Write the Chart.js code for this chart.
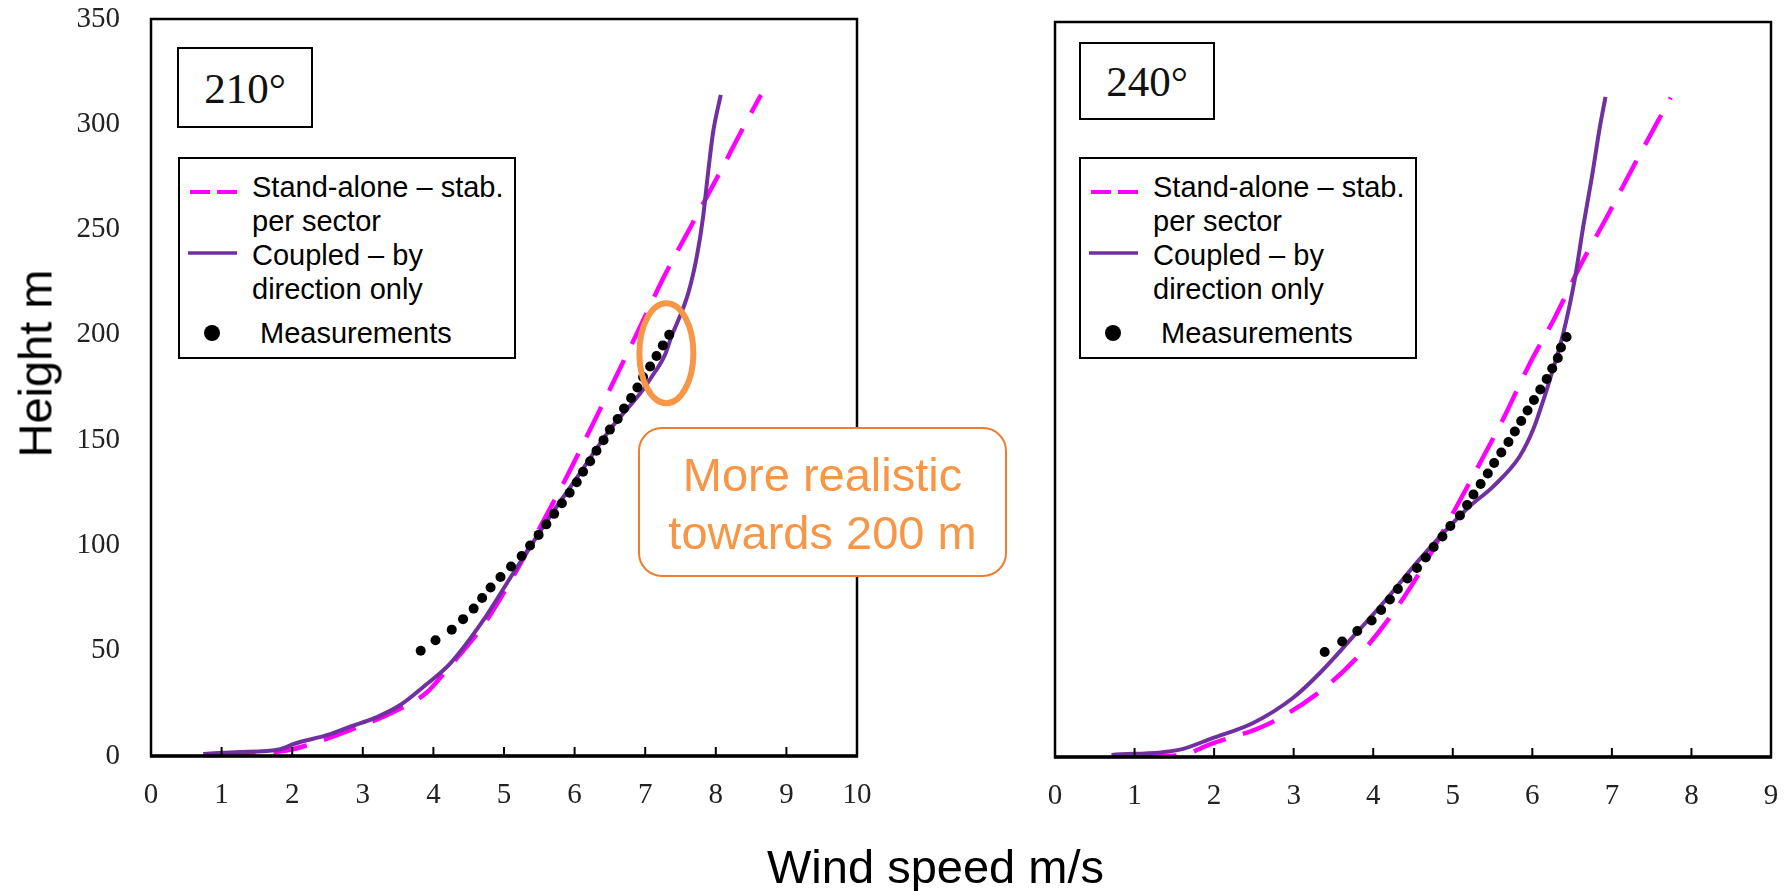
<!DOCTYPE html>
<html>
<head>
<meta charset="utf-8">
<script src="https://cdn.jsdelivr.net/npm/chart.js@4.4.1/dist/chart.umd.min.js"></script>
<style>
  body { margin: 0; width: 1790px; height: 891px; background: #fff; position: relative; overflow: hidden;
         font-family: "Liberation Sans", Arial, sans-serif; }
  canvas { position: absolute; top: 0; }
  .abs { position: absolute; white-space: nowrap; }
  .degbox { position: absolute; border: 2.5px solid #000; box-sizing: border-box; background: #fff; }
  .deg { position: absolute; text-align: center; font-family: "Liberation Serif", serif; font-size: 43px; line-height: 43px; color: #111; }
  .legend { position: absolute; width: 338px; height: 202px; border: 2px solid #000; box-sizing: border-box; background: #fff; }
  .legend .txt { position: absolute; font-size: 29px; line-height: 34px; color: #000; white-space: nowrap; }
  .note { position: absolute; left: 638px; top: 427px; width: 369px; height: 150px; border: 2px solid #ED7D31;
          border-radius: 24px; box-sizing: border-box; background: #fff; }
  .notetxt { position: absolute; left: 638px; top: 446px; width: 369px; text-align: center; font-size: 47px;
             line-height: 57.6px; color: #F79646; }
</style>
</head>
<body>
<canvas id="c210" width="900" height="891" style="left:0"></canvas>
<canvas id="c240" width="890" height="891" style="left:900px"></canvas>

<div class="degbox" style="left:177px;top:47px;width:136px;height:81px"></div>
<div class="deg" style="left:177px;top:67px;width:136px">210°</div>
<div class="degbox" style="left:1079px;top:42px;width:136px;height:78px"></div>
<div class="deg" style="left:1079px;top:60px;width:136px">240°</div>

<div id="legends"></div>

<div class="note"></div>
<div class="notetxt">More realistic<br>towards 200 m</div>

<div class="abs" style="left:767px;top:843px;font-size:47px;line-height:47px;color:#000">Wind speed m/s</div>
<div class="abs" style="left:-65.5px;top:339.5px;width:200px;height:47px;text-align:center;font-size:47px;line-height:47px;color:#000;transform:rotate(-90deg)">Height m</div>

<script>
// heights of the mast measurements (m)
const heights = [50, 55, 60, 65, 70, 75, 80, 85, 90, 95, 100, 105, 110, 115, 120, 125, 130,
                 135, 140, 145, 150, 155, 160, 165, 170, 175, 180, 185, 190, 195, 200];

// 210 degrees
const measured210 = [3.82, 4.03, 4.26, 4.42, 4.57, 4.69, 4.81, 4.95, 5.10, 5.25, 5.37, 5.49, 5.60, 5.71, 5.82, 5.93,
                     6.03, 6.12, 6.22, 6.31, 6.41, 6.50, 6.61, 6.70, 6.80, 6.89, 6.97, 7.07, 7.16, 7.25, 7.34];
const standX210 = [1.0, 1.9, 2.2, 2.8, 3.5, 3.9, 4.19, 4.71, 5.13, 5.5, 5.89, 6.24, 6.57, 6.93, 7.28, 7.66, 8.04, 8.41, 8.64];
const standY210 = [0.5, 2.5, 5, 12, 22, 30, 40.9, 62.2, 85.2, 108, 132.7, 156.4, 179, 204, 228.5, 252.3, 276, 299.8, 314];
const coupledX210 = [0.74, 1.2, 1.83, 2.02, 2.5, 2.82, 3.2, 3.53, 3.86, 4.24, 4.71, 5.13, 5.65, 6.05, 6.5, 6.97, 7.09,
                     7.28, 7.38, 7.45, 7.61, 7.73, 7.82, 7.89, 7.96, 8.07];
const coupledY210 = [1, 1.8, 3.2, 5.7, 10, 13.9, 18.5, 24.2, 32.9, 44, 64.6, 86.8, 113.7, 133, 155, 174, 180,
                     190.5, 200, 205.5, 219.8, 237, 256, 276.8, 295.8, 314];

// 240 degrees
const measured240 = [3.39, 3.61, 3.80, 3.98, 4.10, 4.21, 4.31, 4.43, 4.55, 4.66, 4.76, 4.87, 4.97, 5.09, 5.18, 5.26,
                     5.35, 5.44, 5.52, 5.61, 5.70, 5.78, 5.86, 5.94, 6.02, 6.10, 6.18, 6.25, 6.32, 6.36, 6.43];
const standX240 = [1.1, 1.6, 1.94, 2.66, 3.28, 3.79, 4.25, 4.63, 4.98, 5.32, 5.65, 5.95, 6.29, 6.62, 6.94, 7.27, 7.61, 7.74];
const standY240 = [0.3, 1, 5.9, 15.4, 29.7, 47.1, 68.6, 90.8, 114.6, 138.4, 162.2, 186, 209.8, 235.2, 257.4, 281.2, 305, 314];
const coupledX240 = [0.71, 1.57, 1.98, 2.49, 2.99, 3.33, 3.75, 4.16, 4.58, 4.96, 5.21, 5.51, 5.84, 6.01, 6.14, 6.22,
                     6.39, 6.54, 6.64, 6.75, 6.85, 6.92];
const coupledY240 = [1, 3.5, 9, 16.2, 28.1, 40, 57.4, 74.9, 94, 109.8, 119.3, 128.9, 143.1, 155.9, 170.1, 179.7,
                     201.9, 228.9, 252.7, 276.5, 300.3, 314.3];

const seriesNames = ['Stand-alone – stab.\nper sector', 'Coupled – by\ndirection only', 'Measurements'];

const MAGENTA = '#FF00FF', PURPLE = '#7030A0', ORANGE = '#F79646';

function pts(xs, ys) {
  return xs.map((x, i) => ({ x: x, y: ys[i] }));
}

// box round the plot and small inward ticks on the x axis
const framePlugin = {
  id: 'frame',
  afterDatasetsDraw(chart) {
    const a = chart.chartArea, ctx = chart.ctx, xs = chart.scales.x;
    ctx.save();
    ctx.strokeStyle = '#000';
    ctx.lineWidth = 2.5;
    ctx.strokeRect(a.left, a.top, a.right - a.left, a.bottom - a.top);
    ctx.lineWidth = 3.5;
    ctx.beginPath();
    ctx.moveTo(a.left - 1, a.bottom);
    ctx.lineTo(a.right + 1, a.bottom);
    ctx.stroke();
    ctx.lineWidth = 2;
    xs.ticks.forEach(t => {
      const px = xs.getPixelForValue(t.value);
      ctx.beginPath();
      ctx.moveTo(px, a.bottom);
      ctx.lineTo(px, a.bottom - 9);
      ctx.stroke();
    });
    ctx.restore();
  }
};

// orange ring round the top of the 210 measurements
const ringAt = { x: 7.30, y: 191.3 };
const ringPlugin = {
  id: 'ring',
  afterDraw(chart) {
    const ctx = chart.ctx;
    const cx = chart.scales.x.getPixelForValue(ringAt.x);
    const cy = chart.scales.y.getPixelForValue(ringAt.y);
    ctx.save();
    ctx.strokeStyle = ORANGE;
    ctx.lineWidth = 6;
    ctx.beginPath();
    ctx.ellipse(cx, cy, 27, 50, 0, 0, Math.PI * 2);
    ctx.stroke();
    ctx.restore();
  }
};

function makeChart(id, measured, sX, sY, cX, cY, xMax, o, extraPlugins) {
  const tickFont = { family: 'Liberation Serif', size: 29 };
  return new Chart(document.getElementById(id), {
    type: 'scatter',
    data: {
      datasets: [
        { label: seriesNames[2], data: pts(measured, heights), pointRadius: 5, pointBackgroundColor: '#000',
          pointBorderWidth: 0, showLine: false },
        { label: seriesNames[1], data: pts(cX, cY), showLine: true, borderColor: PURPLE, borderWidth: 4,
          pointRadius: 0, cubicInterpolationMode: 'monotone' },
        { label: seriesNames[0], data: pts(sX, sY), showLine: true, borderColor: MAGENTA, borderWidth: 4.5,
          borderDash: [34, 18], pointRadius: 0, cubicInterpolationMode: 'monotone' }
      ]
    },
    options: {
      responsive: false,
      animation: false,
      layout: { padding: { left: 0, top: o.top, right: o.right, bottom: 0 } },
      plugins: { legend: { display: false }, tooltip: { enabled: false } },
      scales: {
        x: {
          type: 'linear', min: 0, max: xMax,
          ticks: { stepSize: 1, font: tickFont, color: '#222', padding: 22, maxRotation: 0, autoSkip: false },
          grid: { display: false, drawTicks: false },
          border: { display: false },
          afterFit: s => { s.height = o.xh; s.paddingLeft = 0; s.paddingRight = 0; }
        },
        y: {
          min: 0, max: 350,
          ticks: { stepSize: 50, font: tickFont, color: '#222', padding: 31, display: o.yLabels },
          grid: { display: false, drawTicks: false },
          border: { display: false },
          afterFit: s => { s.width = o.yw; s.paddingTop = 0; s.paddingBottom = 0; }
        }
      }
    },
    plugins: [framePlugin].concat(extraPlugins)
  });
}

makeChart('c210', measured210, standX210, standY210, coupledX210, coupledY210, 10,
  { top: 19, right: 43, xh: 135, yw: 151, yLabels: true }, [ringPlugin]);
makeChart('c240', measured240, standX240, standY240, coupledX240, coupledY240, 9,
  { top: 22, right: 19, xh: 134, yw: 155, yLabels: false }, []);

// boxed legends inside each plot
function legendBox(left, top) {
  const box = document.createElement('div');
  box.className = 'legend';
  box.style.left = left + 'px';
  box.style.top = top + 'px';
  box.innerHTML =
    '<svg width="334" height="198" style="position:absolute;left:0;top:0">' +
      '<line x1="10" y1="33" x2="30" y2="33" stroke="' + MAGENTA + '" stroke-width="4"/>' +
      '<line x1="37" y1="33" x2="57" y2="33" stroke="' + MAGENTA + '" stroke-width="4"/>' +
      '<line x1="8" y1="94" x2="57" y2="94" stroke="' + PURPLE + '" stroke-width="3.5"/>' +
      '<circle cx="32" cy="174" r="8" fill="#000"/>' +
    '</svg>' +
    '<div class="txt" style="left:72px;top:11px">' + seriesNames[0].replace('\n', '<br>') + '<br>' +
      seriesNames[1].replace('\n', '<br>') + '</div>' +
    '<div class="txt" style="left:80px;top:157px">' + seriesNames[2] + '</div>';
  document.getElementById('legends').appendChild(box);
}
legendBox(178, 157);
legendBox(1079, 157);
</script>
</body>
</html>
